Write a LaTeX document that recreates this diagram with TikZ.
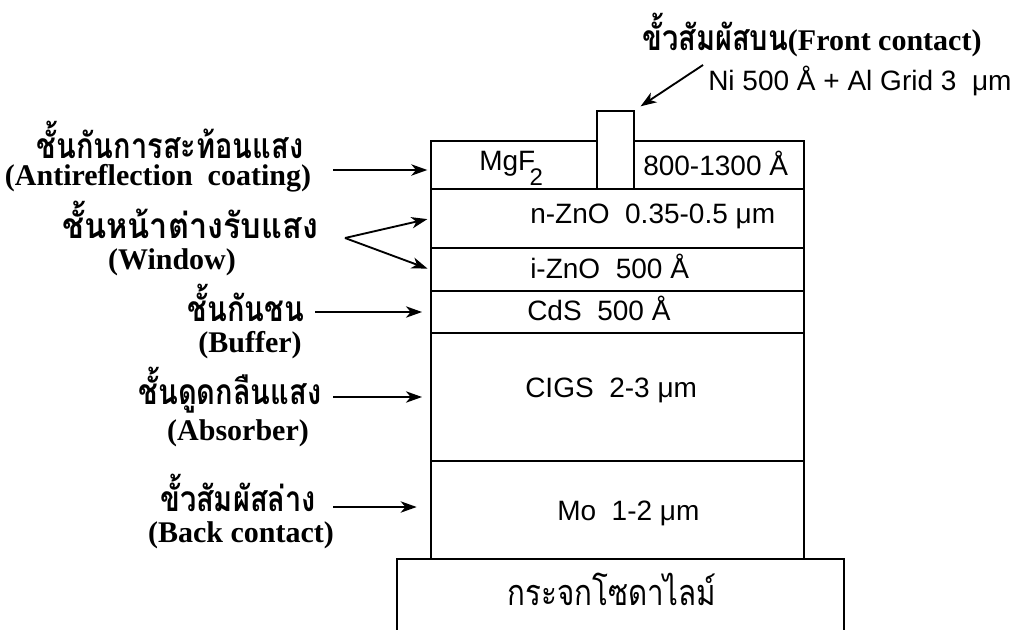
\documentclass[tikz,border=0pt]{standalone}
\usepackage{fontspec}
\setmainfont{Liberation Serif}
\newfontfamily\thaifont[Script=Thai,FakeStretch=0.82]{Loma}
\newfontfamily\arialfont{Liberation Sans}
\usetikzlibrary{arrows.meta}
\tikzset{
  layerbox/.style={draw, line width=1.5pt, inner sep=0pt, minimum width=279.75pt},
  laytext/.style={inner sep=0pt, anchor=base west, font=\arialfont\fontsize{21}{25}\selectfont},
  thlbl/.style={inner sep=0pt, anchor=base, font=\thaifont\bfseries\fontsize{26.5}{30}\selectfont},
  enlbl/.style={inner sep=0pt, anchor=base, font=\bfseries\fontsize{22.5}{26}\selectfont},
  arr/.style={line width=1.4pt, -{Stealth[length=12pt,width=8.5pt,inset=3.5pt]}},
}
\begin{document}
\begin{tikzpicture}[x=0.75pt,y=-0.75pt]
\useasboundingbox (0,0) rectangle (1031,629);
% glass substrate (open at the bottom)
\node[inner sep=0pt, minimum width=335.25pt, minimum height=67.5pt] (glass) at (620.5,604) {};
\draw[line width=1.5pt] (glass.south west) -- (glass.north west) -- (glass.north east) -- (glass.south east);
% layers
\node[layerbox, minimum height=36pt]    (mgf)  at (617.5,165)   {};
\node[layerbox, minimum height=44.25pt] (nzno) at (617.5,218.5) {};
\node[layerbox, minimum height=32.25pt] (izno) at (617.5,269.5) {};
\node[layerbox, minimum height=31.5pt]  (cds)  at (617.5,312)   {};
\node[layerbox, minimum height=96pt]    (cigs) at (617.5,397)   {};
\node[layerbox, minimum height=73.5pt]  (mo)   at (617.5,510)   {};
\node[layerbox, fill=white, minimum width=27.75pt, minimum height=58.5pt] (contact) at (615.5,150) {};
% layer texts
\node[laytext] (tmgf) at (479,170) {MgF\kern-0.2em\raisebox{-0.55em}{\fontsize{18}{20}\selectfont 2}};
\node[laytext] (tmgfth) at (643,175) {800-1300 Å};
\node[laytext] (tnzno) at (530,223) {n-ZnO\ \ 0.35-0.5 μm};
\node[laytext] (tizno) at (530,278) {i-ZnO\ \ 500 Å};
\node[laytext] (tcds) at (527,320) {CdS\ \ 500 Å};
\node[laytext] (tcigs) at (525,397) {CIGS\ \ 2-3 μm};
\node[laytext] (tmo) at (557,520) {Mo\ \ 1-2 μm};
\node[inner sep=0pt, anchor=base, font=\thaifont\fontsize{27}{30}\selectfont] (tglass) at (612,605) {กระจกโซดาไลม์};
% left labels
\node[thlbl] (lar) at (170,158) {ชั้นกันการสะท้อนแสง};
\node[enlbl] (larEn) at (158,185) {(Antireflection\ \ coating)};
\node[thlbl] (lwin) at (190,238) {\scalebox{1.12}[1]{ชั้นหน้าต่างรับแสง}};
\node[enlbl] (lwinEn) at (172,269) {(Window)};
\node[thlbl] (lbuf) at (246,321) {ชั้นกันชน};
\node[enlbl] (lbufEn) at (250,352) {(Buffer)};
\node[thlbl] (labs) at (230,404) {ชั้นดูดกลืนแสง};
\node[enlbl] (labsEn) at (238,440) {(Absorber)};
\node[thlbl] (lback) at (238,511) {ขั้วสัมผัสล่าง};
\node[enlbl] (lbackEn) at (241,542) {(Back contact)};
% top labels
\node[inner sep=0pt, anchor=base west] (lfront) at (642,50) {{\thaifont\bfseries\fontsize{26.5}{30}\selectfont ขั้วสัมผัสบน}{\bfseries\fontsize{22.5}{26}\selectfont(Front contact)}};
\node[inner sep=0pt, anchor=base west, font=\arialfont\fontsize{21}{24}\selectfont] (lni) at (708,90) {Ni 500 Å + Al Grid 3\ \ μm};
% arrow start points
\coordinate (sAR) at (333,170);
\coordinate (sWin) at (345,238);
\coordinate (sBuf) at (315,312);
\coordinate (sAbs) at (333,397);
\coordinate (sBack) at (333,507);
\coordinate (sFront) at (703,65);
% arrows
\draw[arr, shorten >=2pt] (sAR) -- (sAR -| mgf.west);
\draw[arr, shorten >=2pt] (sWin) -- (nzno.west);
\draw[arr, shorten >=2pt] (sWin) -- (izno.west);
\draw[arr, shorten >=6pt] (sBuf) -- (cds.west);
\draw[arr, shorten >=6pt] (sAbs) -- (cigs.west);
\draw[arr, shorten >=10pt] (sBack) -- (sBack -| mo.west);
\draw[arr, shorten >=5pt] (sFront) -- (contact.north east);
\end{tikzpicture}
\end{document}
